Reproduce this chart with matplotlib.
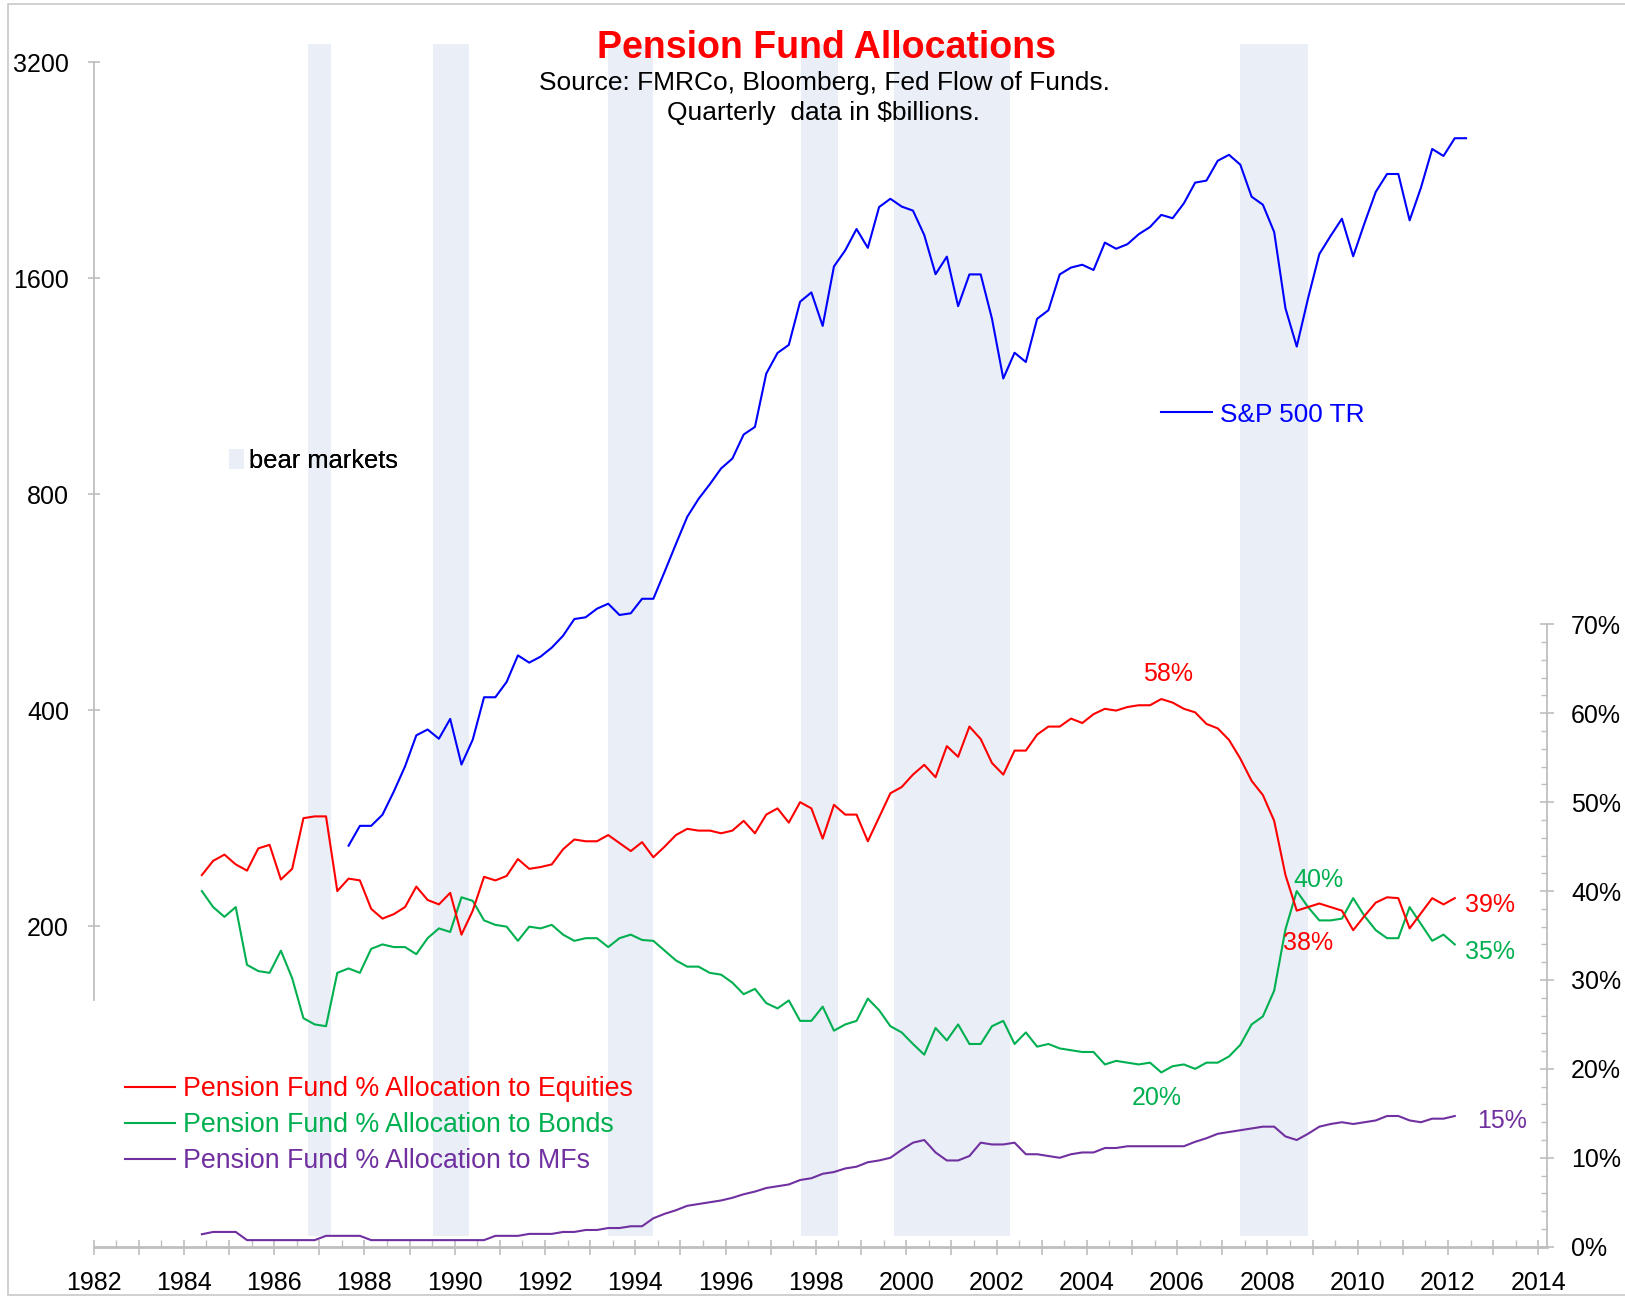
import numpy as np
import matplotlib
matplotlib.use("Agg")
import matplotlib.pyplot as plt
from matplotlib.patches import Patch, Rectangle
from matplotlib.lines import Line2D
from matplotlib.ticker import FixedLocator, NullLocator

plt.rcParams['font.family'] = ['Liberation Sans', 'DejaVu Sans']

# ---------------- data ----------------
alloc_start = 1984.4        # decimal year of first quarterly allocation value
sp_start = 1987.65          # decimal year of first S&P 500 TR value
quarter = 0.25

equities = [41.8, 43.4, 44.1, 43.0, 42.3, 44.8, 45.2, 41.3, 42.5, 48.2,
            48.4, 48.4, 40.0, 41.4, 41.2, 38.0, 36.9, 37.4, 38.2, 40.5,
            39.0, 38.5, 39.8, 35.1, 37.8, 41.6, 41.2, 41.7, 43.6, 42.5,
            42.7, 43.0, 44.7, 45.8, 45.6, 45.6, 46.3, 45.4, 44.5, 45.5,
            43.8, 45.0, 46.3, 47.0, 46.8, 46.8, 46.5, 46.8, 47.9, 46.5,
            48.6, 49.3, 47.7, 50.0, 49.3, 45.9, 49.7, 48.6, 48.6, 45.6,
            48.3, 51.0, 51.7, 53.1, 54.2, 52.8, 56.3, 55.1, 58.5, 57.1,
            54.4, 53.1, 55.8, 55.8, 57.6, 58.5, 58.5, 59.4, 58.9,
            59.9, 60.5, 60.3, 60.7, 60.9, 60.9, 61.6, 61.2, 60.5, 60.1,
            58.8, 58.3, 57.0, 54.9, 52.4, 50.8, 47.9, 41.8, 37.8, 38.2,
            38.6, 38.2, 37.8, 35.6, 37.2, 38.7, 39.3, 39.2, 35.8, 37.5,
            39.2, 38.5, 39.2]

bonds = [40.0, 38.2, 37.1, 38.2, 31.7, 31.0, 30.8, 33.3, 30.2, 25.7,
         25.0, 24.8, 30.8, 31.3, 30.8, 33.5, 34.0, 33.7, 33.7, 32.9,
         34.7, 35.8, 35.4, 39.3, 38.9, 36.7, 36.2, 36.0, 34.4, 36.0,
         35.8, 36.2, 35.1, 34.4, 34.7, 34.7, 33.7, 34.7, 35.1, 34.5,
         34.4, 33.3, 32.2, 31.5, 31.5, 30.8, 30.6, 29.7, 28.4, 29.0,
         27.4, 26.8, 27.7, 25.4, 25.4, 27.0, 24.3, 25.0, 25.4, 27.9,
         26.6, 24.8, 24.1, 22.8, 21.6, 24.6, 23.2, 25.0, 22.8, 22.8,
         24.8, 25.4, 22.8, 24.1, 22.5, 22.8, 22.3, 22.1, 21.9,
         21.9, 20.5, 20.9, 20.7, 20.5, 20.7, 19.6, 20.3, 20.5, 20.0,
         20.7, 20.7, 21.4, 22.7, 25.0, 25.9, 28.8, 35.7, 40.0, 38.2,
         36.7, 36.7, 36.9, 39.2, 37.2, 35.6, 34.7, 34.7, 38.2, 36.3,
         34.4, 35.1, 34.0]

mutual_funds = [1.4, 1.66, 1.66, 1.66, 0.74, 0.74, 0.74, 0.74, 0.74, 0.74,
                0.74, 1.22, 1.22, 1.22, 1.22, 0.74, 0.74, 0.74, 0.74, 0.74,
                0.74, 0.74, 0.74, 0.74, 0.74, 0.74, 1.22, 1.22, 1.22, 1.44,
                1.44, 1.44, 1.66, 1.66, 1.88, 1.88, 2.1, 2.1, 2.3, 2.3,
                3.2, 3.7, 4.1, 4.6, 4.8, 5.0, 5.2, 5.5, 5.9, 6.2,
                6.6, 6.8, 7.0, 7.5, 7.7, 8.2, 8.4, 8.8, 9.0, 9.5,
                9.7, 10.0, 10.9, 11.7, 12.0, 10.6, 9.7, 9.7, 10.2, 11.7,
                11.5, 11.5, 11.7, 10.4, 10.4, 10.2, 10.0, 10.4, 10.6,
                10.6, 11.1, 11.1, 11.3, 11.3, 11.3, 11.3, 11.3, 11.3, 11.8,
                12.2, 12.7, 12.9, 13.1, 13.3, 13.5, 13.5, 12.4, 12.0, 12.7,
                13.5, 13.8, 14.0, 13.8, 14.0, 14.2, 14.7, 14.7, 14.2, 14.0,
                14.4, 14.4, 14.7]

sp500_tr = [259, 276, 276, 286, 308, 334, 369, 376, 365, 389,
            336, 364, 417, 417, 438, 477, 466, 475, 489, 508,
            536, 539, 554, 563, 543, 546, 572, 572, 624, 682,
            744, 788, 826, 869, 897, 969, 993, 1178, 1259, 1292,
            1484, 1529, 1373, 1662, 1750, 1874, 1764, 2011, 2065, 2014,
            1988, 1838, 1621, 1715, 1463, 1620, 1620, 1405, 1160, 1260,
            1223, 1405, 1444, 1620, 1656, 1671, 1643, 1794, 1759, 1785,
            1843, 1886, 1961, 1940, 2035, 2175, 2189, 2333, 2378, 2304,
            2079, 2026, 1856, 1453, 1285, 1500, 1729, 1833, 1937, 1717,
            1909, 2111, 2236, 2236, 1927, 2139, 2423, 2369, 2508, 2508]

bear_markets = [(1986.74, 1987.26), (1989.53, 1990.32), (1993.39, 1994.40),
                (1997.68, 1998.48), (1999.73, 2002.29), (2007.40, 2008.90)]

left_ticks = [200, 400, 800, 1600, 3200]
right_ticks = [0, 10, 20, 30, 40, 50, 60, 70]
year_ticks = list(range(1982, 2015))

series_labels = ["Pension Fund % Allocation to Equities",
                 "Pension Fund % Allocation to Bonds",
                 "Pension Fund % Allocation to MFs"]

RED, GREEN, PURPLE, BLUE = "#FF0000", "#00B050", "#7030A0", "#0000FF"
BAND, GRAY = "#E9EEF7", "#BFBFBF"

annotations = [("58%", 2005.80, 63.6, RED), ("40%", 2009.14, 40.5, GREEN),
               ("39%", 2012.93, 37.7, RED), ("38%", 2008.91, 33.4, RED),
               ("35%", 2012.92, 32.4, GREEN), ("20%", 2005.55, 15.9, GREEN),
               ("15%", 2013.19, 13.35, PURPLE)]

# ---------------- layout ----------------
W, H = 1625, 1296
fig = plt.figure(figsize=(W / 100, H / 100), dpi=100)
L, R, T, B = 93.5, 1546.5, 43.5, 1246.7
ax = fig.add_axes([L / W, 1 - B / H, (R - L) / W, (B - T) / H])
ax.set_xlim(1982, 1982 + (R - L) / 45.15)
ax.set_yscale('log', base=2)
ax.set_ylim(71.5, 3399)

ax_pct = ax.twinx()
ax_pct.set_ylim(0, 135.33)

for a, b in bear_markets:
    ax.axvspan(a, b, ymin=0.0089, ymax=1.0, color=BAND, lw=0, zorder=0)

x_alloc = alloc_start + quarter * np.arange(len(equities))
x_sp = sp_start + quarter * np.arange(len(sp500_tr))

ax.plot(x_sp, sp500_tr, color=BLUE, lw=1.5, zorder=3)
ax_pct.plot(x_alloc, mutual_funds, color=PURPLE, lw=1.5)
ax_pct.plot(x_alloc, bonds, color=GREEN, lw=1.5)
ax_pct.plot(x_alloc, equities, color=RED, lw=1.5)

# spines
ax.spines['top'].set_visible(False)
ax.spines['right'].set_visible(False)
ax.spines['left'].set_bounds(158, 3200)
ax.spines['left'].set_color(GRAY)
ax.spines['left'].set_linewidth(1.3)
ax.spines['bottom'].set_color(GRAY)
ax.spines['bottom'].set_linewidth(2.0)
for s in ['top', 'left', 'bottom']:
    ax_pct.spines[s].set_visible(False)
ax_pct.spines['right'].set_bounds(0, 70)
ax_pct.spines['right'].set_color(GRAY)
ax_pct.spines['right'].set_linewidth(1.3)

# ticks
ax.set_yticks(left_ticks, [str(v) for v in left_ticks])
ax.yaxis.set_minor_locator(NullLocator())
ax.tick_params(axis='y', which='major', direction='inout', length=8.6, width=1.2,
               color=GRAY, labelcolor='black', labelsize=18, pad=13.3)

ax.set_xticks(year_ticks, [str(y) if y % 2 == 0 else '' for y in year_ticks])
ax.set_xticks([y + 0.5 for y in year_ticks[:-1]], minor=True)
ax.tick_params(axis='x', which='major', direction='inout', length=10.8, width=1.2,
               color=GRAY, labelcolor='black', labelsize=18, pad=11.9)
ax.tick_params(axis='x', which='minor', direction='in', length=5.4, width=1.0, color=GRAY)

ax_pct.set_yticks(right_ticks, [f"{v}%" for v in right_ticks])
ax_pct.yaxis.set_minor_locator(FixedLocator(list(range(0, 71, 2))))
ax_pct.tick_params(axis='y', which='major', direction='inout', length=9.4, width=1.2,
                   color=GRAY, labelcolor='black', labelsize=18, pad=13)
ax_pct.tick_params(axis='y', which='minor', direction='in', length=4.5, width=1.0, color=GRAY)

# titles
fig.text(826 / W, 1 - 58.3 / H, "Pension Fund Allocations", ha='center', va='baseline',
         fontsize=27, fontweight='bold', color=RED)
fig.text(824 / W, 1 - 89.7 / H, "Source: FMRCo, Bloomberg, Fed Flow of Funds.",
         ha='center', va='baseline', fontsize=19)
fig.text(823 / W, 1 - 120.3 / H, "Quarterly  data in $billions.",
         ha='center', va='baseline', fontsize=19)

# annotations
for s, xv, yv, c in annotations:
    ax_pct.text(xv, yv, s, ha='center', va='baseline', fontsize=18, color=c)

# legends
h_eq = Line2D([], [], color=RED, lw=1.5)
h_bd = Line2D([], [], color=GREEN, lw=1.5)
h_mf = Line2D([], [], color=PURPLE, lw=1.5)
leg1 = ax_pct.legend([h_eq, h_bd, h_mf], series_labels, loc='upper left',
                     bbox_to_anchor=(124.5 / W, 1 - 1076 / H), bbox_transform=fig.transFigure,
                     frameon=False, fontsize=19.3, handlelength=1.9, handletextpad=0.28,
                     labelspacing=0.38, borderpad=0, borderaxespad=0)
for t, c in zip(leg1.get_texts(), [RED, GREEN, PURPLE]):
    t.set_color(c)
ax_pct.add_artist(leg1)

h_sp = Line2D([], [], color=BLUE, lw=1.5)
leg2 = ax_pct.legend([h_sp], ["S&P 500 TR"], loc='upper left',
                     bbox_to_anchor=(1161 / W, 1 - 402.5 / H), bbox_transform=fig.transFigure,
                     frameon=False, fontsize=18.9, handlelength=1.96, handletextpad=0.28,
                     borderpad=0, borderaxespad=0)
leg2.get_texts()[0].set_color(BLUE)
ax_pct.add_artist(leg2)

h_bear = Patch(facecolor=BAND, edgecolor='none')
leg3 = ax_pct.legend([h_bear], ["bear markets"], loc='upper left',
                     bbox_to_anchor=(229 / W, 1 - 449 / H), bbox_transform=fig.transFigure,
                     frameon=False, fontsize=18.4, handlelength=0.57, handleheight=0.78,
                     handletextpad=0.2, borderpad=0, borderaxespad=0)
ax_pct.add_artist(leg3)

# outer border
fig.add_artist(Rectangle((7.8 / W, 1 - 1295 / H), (1626 - 7.8) / W, (1295 - 4.3) / H,
                         transform=fig.transFigure, fill=False, ec='#C8C8C8', lw=1.2))

fig.savefig("out.png", dpi=100)
